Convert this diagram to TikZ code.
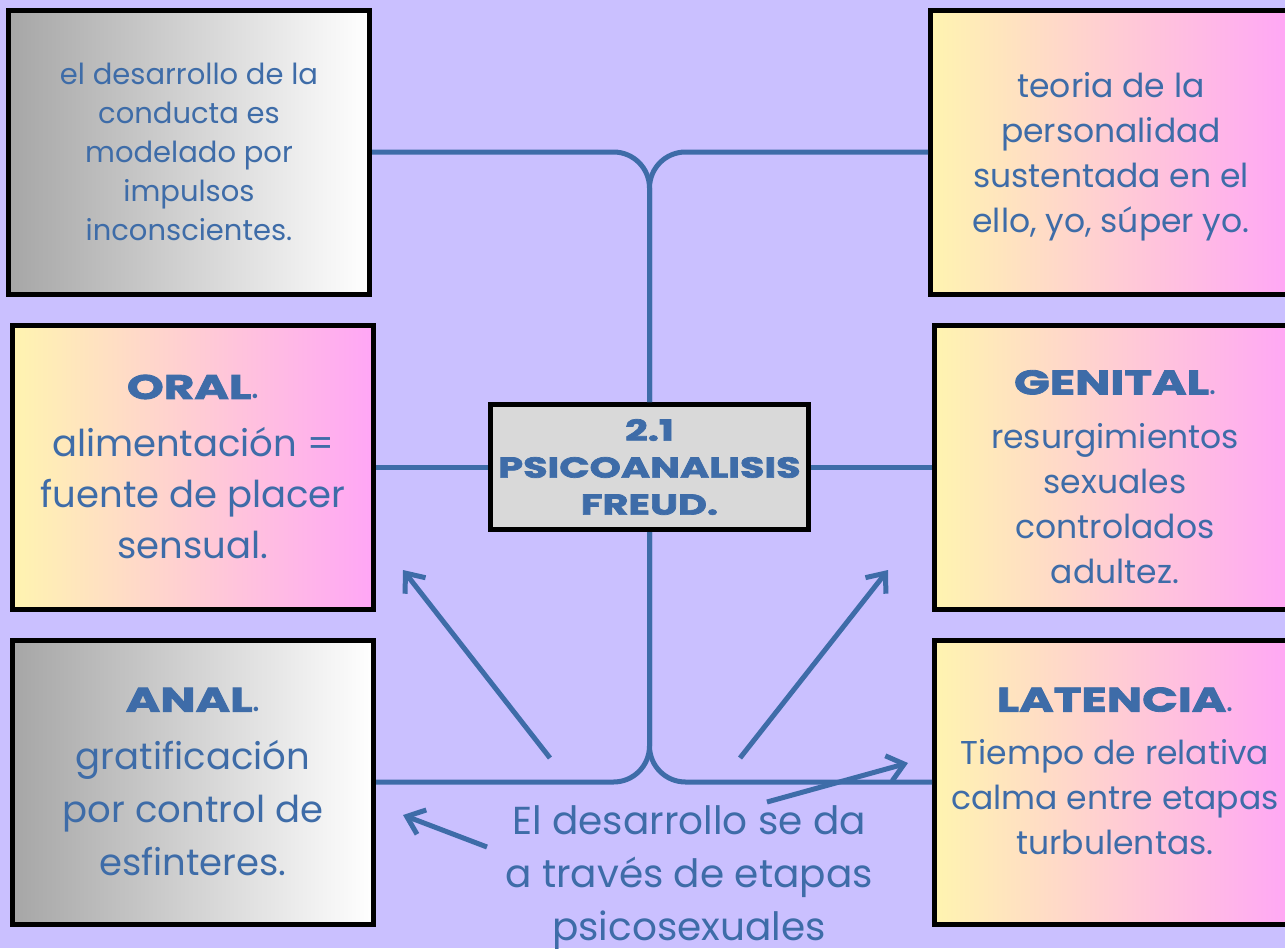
\documentclass[tikz,border=0pt]{standalone}
\usepackage{fontspec}
\setmainfont{Poppins}
\newfontfamily\titlefont[FakeStretch=1.38, FakeBold=2.5]{Poppins Bold}
\usepackage{xcolor}
\usepackage{tikz}
\usetikzlibrary{positioning}
\usetikzlibrary{arrows.meta}

\definecolor{lavender}{RGB}{202,192,255}
\definecolor{freudblue}{RGB}{62,108,168}
\definecolor{stonegrey}{RGB}{166,166,166}
\definecolor{centregrey}{RGB}{217,217,217}
\definecolor{sunyellow}{RGB}{255,244,176}
\definecolor{sunpink}{RGB}{255,166,246}

\newcommand{\stagename}[1]{{\titlefont\fontsize{17}{20}\selectfont #1}.}

\begin{document}
\begin{tikzpicture}[
  x=0.5pt, y=-0.5pt,
  stagebox/.style={draw, line width=2.5pt, align=center, minimum width=180.5pt, minimum height=142pt, text=freudblue, inner sep=0pt},
  greybox/.style={stagebox, left color=stonegrey, right color=white},
  sunbox/.style={stagebox, left color=sunyellow, right color=sunpink},
  titlebox/.style={draw, line width=2.5pt, fill=centregrey, align=center, minimum width=159pt, minimum height=62.5pt, text=freudblue, inner sep=0pt, font=\titlefont\fontsize{14.4}{18.5}\selectfont},
  caption/.style={align=center, text=freudblue, font=\fontsize{19.5}{26.5}\selectfont},
  link/.style={draw=freudblue, line width=2.5pt, rounded corners=18pt},
  arrow/.style={-{Straight Barb[length=8pt,width=13pt]}, draw=freudblue, line width=2.5pt}
]
\path[use as bounding box] (0,0) rectangle (1285,948);
\clip (0,0) rectangle (1285,948);
\fill[lavender] (0,0) rectangle (1285,948);

% Nodes
\node[titlebox] (C) at (649.5,467) {2.1\\PSICOANALISIS\\FREUD.};

\node[sunbox, left=56pt of C, font=\fontsize{18.5}{25.5}\selectfont] (O)
  {\stagename{ORAL}\\[3.5pt]alimentación =\\fuente de placer\\sensual.};
\node[greybox, above=13pt of O, xshift=-2pt, font=\fontsize{14.5}{19.5}\selectfont] (D)
  {el desarrollo de la\\conducta es\\modelado por\\impulsos\\inconscientes.};
\node[greybox, below=13pt of O, font=\fontsize{18.5}{26.5}\selectfont] (A)
  {\stagename{ANAL}\\[2.5pt]gratificación\\por control de\\esfinteres.};

\node[sunbox, right=60.5pt of C, font=\fontsize{16.5}{22.5}\selectfont] (G)
  {\rule{0pt}{22pt}\stagename{GENITAL}\\[4.5pt]resurgimientos\\sexuales\\controlados\\adultez.};
\node[sunbox, above=13pt of G, xshift=-2pt, font=\fontsize{16.5}{22.5}\selectfont] (P)
  {\rule{0pt}{17pt}teoria de la\\personalidad\\sustentada en el\\ello, yo, súper yo.};
\node[sunbox, below=13pt of G, font=\fontsize{16.5}{22.5}\selectfont] (L)
  {\stagename{LATENCIA}\\[4pt]Tiempo de relativa\\calma entre etapas\\turbulentas.\\[-11.5pt]};

\node[caption] (T) at (689,878) {El desarrollo se da\\a través de etapas\\psicosexuales};

\coordinate (oralTail) at (550,758);
\coordinate (oralTip) at (403,570);
\coordinate (genitalTail) at (740,758);
\coordinate (genitalTip) at (888,570);
\coordinate (analTail) at (487,847);
\coordinate (analTip) at (403,815);
\coordinate (latenciaTail) at (767,802);
\coordinate (latenciaTip) at (908,763);

% Edges
\draw[link] (D.east) -| (C.north);
\draw[link] (P.west) -| (C.north);
\draw[link] (O.east) -- (C.west);
\draw[link] (C.east) -- (G.west);
\draw[link] (C.south) |- (A.east);
\draw[link] (C.south) |- (L.west);

\draw[arrow] (oralTail) -- (oralTip);
\draw[arrow] (genitalTail) -- (genitalTip);
\draw[arrow] (analTail) -- (analTip);
\draw[arrow] (latenciaTail) -- (latenciaTip);

\end{tikzpicture}
\end{document}
